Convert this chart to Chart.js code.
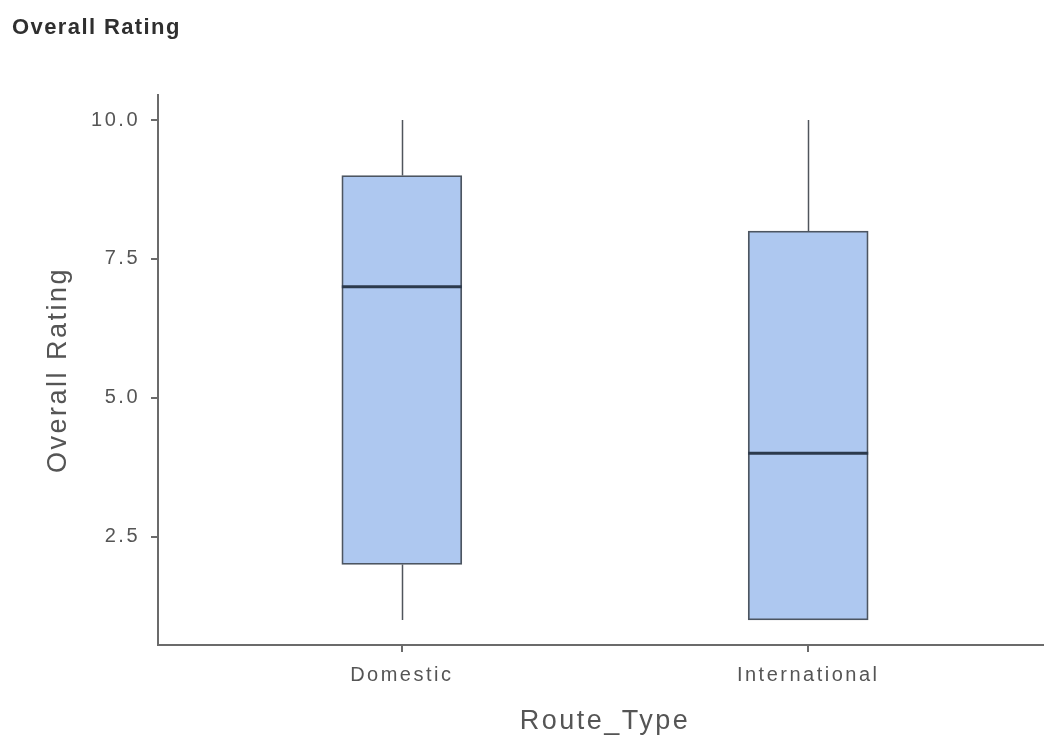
<!DOCTYPE html>
<html>
<head>
<meta charset="utf-8">
<script src="https://cdn.jsdelivr.net/npm/chart.js@4/dist/chart.umd.min.js"></script>
<style>
  html, body { margin: 0; padding: 0; background: #ffffff; }
  #wrap { width: 1044px; height: 740px; overflow: hidden; position: relative; }
  canvas { display: block; }
</style>
</head>
<body>
<div id="wrap"><canvas id="c" width="1060" height="740"></canvas></div>
<script>
// Box plot summary per route type
const categories = ['Domestic', 'International'];
const whiskerLow = [1, 1];
const quartile1  = [2, 1];
const medians    = [7, 4];
const quartile3  = [9, 8];
const whiskerHigh = [10, 10];
const yTickValues = [2.5, 5.0, 7.5, 10.0];

const FONT = "'Liberation Sans', Arial, sans-serif";
const AXIS = '#6b6b6b';
const TEXT = '#555555';

// Whiskers behind the boxes, median bars on top
const boxParts = {
  id: 'boxParts',
  beforeDatasetsDraw(chart) {
    const { ctx, scales: { x, y } } = chart;
    ctx.save();
    ctx.strokeStyle = '#50555c';
    ctx.lineWidth = 1.5;
    categories.forEach((c, i) => {
      const px = Math.round(x.getPixelForValue(i + 1)) + 0.5;
      ctx.beginPath();
      ctx.moveTo(px, y.getPixelForValue(whiskerHigh[i]));
      ctx.lineTo(px, y.getPixelForValue(quartile3[i]));
      ctx.moveTo(px, y.getPixelForValue(quartile1[i]));
      ctx.lineTo(px, y.getPixelForValue(whiskerLow[i]));
      ctx.stroke();
    });
    ctx.restore();
  },
  afterDatasetsDraw(chart) {
    const { ctx, scales: { x, y } } = chart;
    const meta = chart.getDatasetMeta(0);
    ctx.save();
    ctx.strokeStyle = '#2c3a4c';
    ctx.lineWidth = 3;
    categories.forEach((c, i) => {
      const bar = meta.data[i];
      const half = bar.width / 2;
      const px = x.getPixelForValue(i + 1);
      const py = y.getPixelForValue(medians[i]);
      ctx.beginPath();
      ctx.moveTo(px - half, py);
      ctx.lineTo(px + half, py);
      ctx.stroke();
    });
    ctx.restore();
  }
};

// Spaced lettering for all canvas text, plus the panel heading
const heading = {
  id: 'heading',
  beforeDraw(chart) {
    chart.ctx.letterSpacing = '2.5px';
  },
  afterDraw(chart) {
    const ctx = chart.ctx;
    ctx.save();
    ctx.letterSpacing = '1.4px';
    ctx.font = `bold 22px ${FONT}`;
    ctx.fillStyle = '#2f2f2f';
    ctx.textAlign = 'left';
    ctx.textBaseline = 'alphabetic';
    ctx.fillText('Overall Rating', 12, 34);
    ctx.restore();
  }
};

new Chart(document.getElementById('c'), {
  type: 'bar',
  data: {
    datasets: [{
      data: categories.map((c, i) => ({ x: i + 1, y: [quartile1[i], quartile3[i]] })),
      backgroundColor: '#aec8f0',
      borderColor: '#4c5561',
      borderWidth: 1.8,
      borderSkipped: false,
      barThickness: 120
    }]
  },
  options: {
    responsive: false,
    animation: false,
    devicePixelRatio: 1,
    layout: { padding: { top: 95, right: 8, left: 0, bottom: 0 } },
    plugins: {
      legend: { display: false },
      tooltip: { enabled: false },
      title: { display: false }
    },
    scales: {
      x: {
        type: 'linear',
        min: 0.4,
        max: 2.6,
        offset: false,
        afterBuildTicks(s) { s.ticks = categories.map((c, i) => ({ value: i + 1 })); },
        afterFit(s) { s.height = 95; },
        ticks: {
          autoSkip: false,
          maxRotation: 0,
          padding: 11,
          color: TEXT,
          font: { family: FONT, size: 20 },
          callback: (v) => categories[v - 1]
        },
        grid: { offset: false, drawOnChartArea: false, tickLength: 7, color: AXIS, lineWidth: 2 },
        border: { display: true, color: AXIS, width: 2 },
        title: {
          display: true,
          text: 'Route_Type',
          color: TEXT,
          font: { family: FONT, size: 27 },
          padding: { top: 0, bottom: 2 }
        }
      },
      y: {
        type: 'linear',
        min: 0.55,
        max: 10.45,
        afterBuildTicks(s) { s.ticks = yTickValues.map(v => ({ value: v })); },
        afterFit(s) { s.width = 158; },
        ticks: {
          padding: 11,
          color: TEXT,
          font: { family: FONT, size: 20 },
          callback: (v) => v.toFixed(1)
        },
        grid: { drawOnChartArea: false, tickLength: 7, color: AXIS, lineWidth: 2 },
        border: { display: true, color: AXIS, width: 2 },
        title: {
          display: true,
          text: 'Overall Rating',
          color: TEXT,
          font: { family: FONT, size: 27 },
          padding: { top: 42, bottom: 0 }
        }
      }
    }
  },
  plugins: [boxParts, heading]
});
</script>
</body>
</html>
